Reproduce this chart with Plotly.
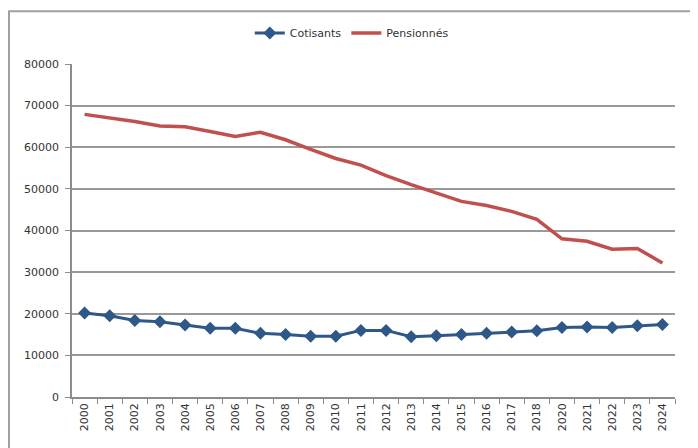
import plotly.graph_objects as go

years = ["2000", "2001", "2002", "2003", "2004", "2005", "2006", "2007", "2008", "2009",
         "2010", "2011", "2012", "2013", "2014", "2015", "2016", "2017", "2018",
         "2020", "2021", "2022", "2023", "2024"]
cotisants = [20200, 19500, 18400, 18100, 17300, 16500, 16500, 15300, 15000, 14600,
             14600, 16000, 16000, 14500, 14700, 15000, 15300, 15600, 15900,
             16700, 16800, 16700, 17100, 17400]
pensionnes = [67900, 67100, 66200, 65100, 64900, 63800, 62600, 63600, 61800, 59500,
              57300, 55700, 53200, 51000, 49100, 47000, 46000, 44600, 42700,
              38000, 37400, 35500, 35700, 32200]
y_ticks = [0, 10000, 20000, 30000, 40000, 50000, 60000, 70000, 80000]

fig = go.Figure()
fig.add_trace(go.Scatter(
    x=years, y=cotisants, name="Cotisants", mode="lines+markers",
    line=dict(color="#2E5888", width=3),
    marker=dict(symbol="diamond", size=10, color="#2E5888"),
))
fig.add_trace(go.Scatter(
    x=years, y=pensionnes, name="Pensionnés", mode="lines",
    line=dict(color="#C0504D", width=3.5),
))

fig.update_layout(
    width=698, height=448,
    margin=dict(l=64, r=31, t=55, b=59),
    paper_bgcolor="white", plot_bgcolor="white",
    font=dict(family="DejaVu Sans, sans-serif", size=11, color="#333"),
    showlegend=True,
    legend=dict(orientation="h", x=0.464, xanchor="center", y=1.09, yanchor="middle",
                font=dict(size=11, color="#333"), itemwidth=30, tracegroupgap=0,
                bgcolor="rgba(0,0,0,0)"),
    xaxis=dict(
        type="category", tickangle=-90, showgrid=False,
        showline=True, linecolor="#8c8c8c", linewidth=1.5,
        ticks="outside", tickson="boundaries", ticklen=5, tickcolor="#8c8c8c",
        tickfont=dict(size=11, color="#333"),
        range=[-0.5, len(years) - 0.5],
    ),
    yaxis=dict(
        range=[0, 80000], tickvals=y_ticks, ticktext=[str(v) for v in y_ticks],
        showgrid=True, gridcolor="#999999", gridwidth=1.5,
        showline=True, linecolor="#8c8c8c", linewidth=1.5,
        ticks="outside", ticklen=5, tickcolor="#8c8c8c", ticklabelstandoff=4,
        tickfont=dict(size=11, color="#333"), zeroline=False,
    ),
    shapes=[dict(type="rect", xref="paper", yref="paper",
                 x0=(1 - 64) / 603, x1=(685 - 64) / 603, y0=-0.2, y1=(389 - 2) / 334,
                 line=dict(color="#a0a0a0", width=2), fillcolor="rgba(0,0,0,0)",
                 layer="below")],
)

fig.write_html("out.html")
